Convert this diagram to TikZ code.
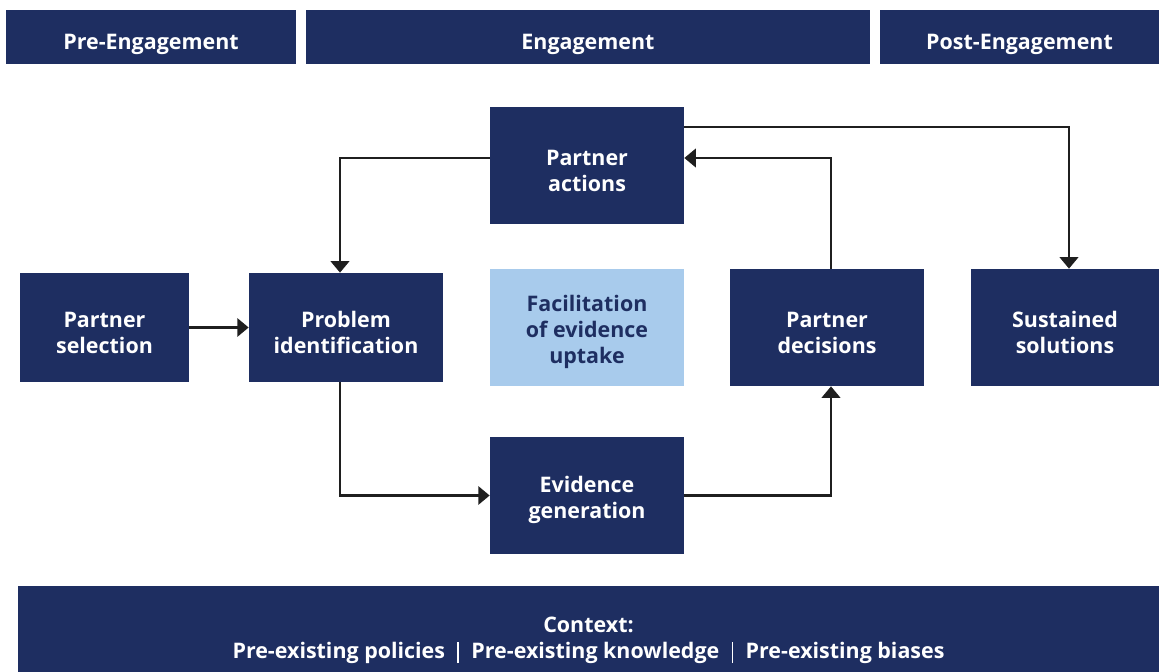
\documentclass[tikz,border=0pt]{standalone}
\usepackage{fontspec}
\setmainfont{Open Sans}
\usepackage{xcolor}
\usetikzlibrary{shapes,arrows.meta}

\definecolor{navy}{HTML}{1E2E61}
\definecolor{paleblue}{HTML}{A8CBEC}
\definecolor{arrowgray}{HTML}{1F1F1F}

% taller first line, pushes the text down a little
\newcommand{\lift}{\rule{0pt}{14.5pt}}
\newcommand{\sep}{\hspace{7pt}\rule[-2.8pt]{1pt}{12pt}\hspace{7pt}}

\tikzset{
	box/.style = {rectangle, fill = navy, text = white, align = center, inner sep = 0pt,
		font = \bfseries\fontsize{12.2}{14.8}\selectfont},
	phase/.style = {box, minimum height = 1.08cm, execute at begin node = {\rule{0pt}{17pt}}},
	stage/.style = {box, minimum width = 3.88cm, minimum height = 2.34cm},
	flow/.style = {->, draw = arrowgray, line width = 1.2pt}
}

\begin{document}
\begin{tikzpicture}[x = 0.02cm, y = -0.02cm, >={Triangle[length = 6.5pt, width = 10.5pt]}]
		\useasboundingbox (0,0) rectangle (1159,672);

		% phases along the top
		\node (pre)[phase, minimum width = 5.8cm] at (151,37) {Pre-Engagement};
		\node (eng)[phase, minimum width = 11.28cm] at (588,37) {Engagement};
		\node (post)[phase, minimum width = 5.58cm] at (1019.5,37) {Post-Engagement};

		\node (sel)[box, minimum width = 3.38cm, minimum height = 2.18cm] at (104.5,327.5) {\lift Partner\\selection};
		\node (prob)[box, minimum width = 3.88cm, minimum height = 2.18cm] at (346,327.5) {\lift Problem\\identification};
		\node (fac)[stage, fill = paleblue, text = navy] at (587,327.5) {\lift Facilitation\\of evidence\\uptake};
		\node (act)[stage] at (587,165.5) {\lift Partner\\actions};
		\node (gen)[stage] at (587,495.5) {\lift Evidence\\generation};
		\node (dec)[stage] at (827,327.5) {\lift Partner\\decisions};
		\node (sus)[stage, minimum width = 3.76cm] at (1065,327.5) {\lift Sustained\\solutions};

		% runs on past the bottom edge
		\node (ctx)[box, minimum width = 22.82cm, minimum height = 1.96cm] at (588.5,635)
			{\lift Context:\\Pre-existing policies\sep Pre-existing knowledge\sep Pre-existing biases};

		\draw[flow] (sel.east) -- (prob.west);
		\draw[flow] ([yshift = 0.15cm]act.west) -| ([xshift = -0.12cm]prob.north);
		\draw[flow] ([xshift = -0.12cm]prob.south) |- (gen.west);
		\draw[flow] (gen.east) -| ([xshift = 0.08cm]dec.south);
		\draw[flow] ([xshift = 0.08cm]dec.north) |- ([yshift = 0.15cm]act.east);
		\draw[flow] ([yshift = 0.77cm]act.east) -| ([xshift = 0.08cm]sus.north);
\end{tikzpicture}
\end{document}
